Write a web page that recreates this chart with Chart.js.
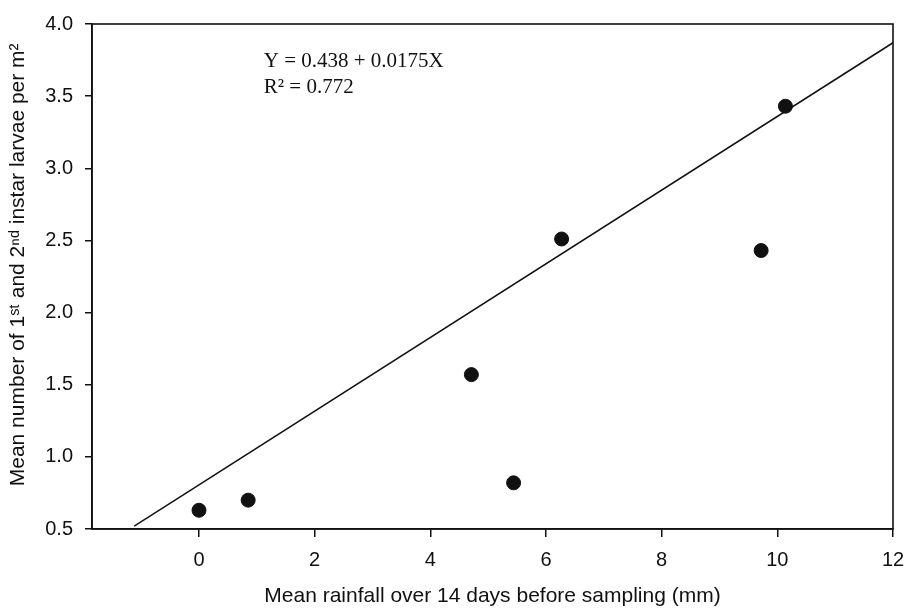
<!DOCTYPE html>
<html>
<head>
<meta charset="utf-8">
<script src="https://cdn.jsdelivr.net/npm/chart.js@4"></script>
<style>
  html, body { margin: 0; padding: 0; background: #fff; }
  #wrap { width: 905px; height: 610px; }
</style>
</head>
<body>
<div id="wrap"><canvas id="larvae-chart"></canvas></div>
<script>
// rainfall (mm) vs larvae density
const rainfall = [0, 0.85, 4.71, 5.44, 6.27, 9.72, 10.14];
const larvae = [0.63, 0.70, 1.57, 0.82, 2.51, 2.43, 3.43];

// end points of the fitted line
const fitX = [-1.12, 12];
const fitY = [0.52, 3.87];

const xTicks = [0, 2, 4, 6, 8, 10, 12];
const yTicks = [0.5, 1.0, 1.5, 2.0, 2.5, 3.0, 3.5, 4.0];

const equationLines = ['Y = 0.438 + 0.0175X', 'R\u00b2 = 0.772'];

const ink = '#111';
const sans = 'Liberation Sans, Arial, sans-serif';

// box around plot area + regression text
const framePlugin = {
    id: 'frame',
    afterDatasetsDraw(chart) {
        const { ctx, chartArea: a, scales } = chart;
        ctx.save();
        ctx.strokeStyle = ink;
        ctx.lineWidth = 1.6;
        ctx.strokeRect(a.left, a.top, a.right - a.left, a.bottom - a.top);

        ctx.fillStyle = ink;
        ctx.font = '21px "Liberation Serif", "Times New Roman", serif';
        ctx.textBaseline = 'alphabetic';
        const tx = scales.x.getPixelForValue(1.12);
        const ty = scales.y.getPixelForValue(3.70);
        ctx.fillText(equationLines[0], tx, ty);
        ctx.fillText(equationLines[1], tx, ty + 26);
        ctx.restore();
    }
};

new Chart(
    document.getElementById('larvae-chart'),
    {
        type: 'scatter',
        data: {
            datasets: [
                {
                    label: 'larvae',
                    data: rainfall.map((x, i) => ({ x: x, y: larvae[i] })),
                    backgroundColor: ink,
                    borderColor: ink,
                    pointRadius: 7,
                    pointHoverRadius: 7
                },
                {
                    label: 'fit',
                    type: 'line',
                    data: fitX.map((x, i) => ({ x: x, y: fitY[i] })),
                    borderColor: ink,
                    borderWidth: 1.5,
                    pointRadius: 0,
                    fill: false
                }
            ]
        },
        options: {
            responsive: true,
            maintainAspectRatio: false,
            animation: false,
            layout: {
                padding: { top: 24, right: 12, left: 0, bottom: 0 }
            },
            plugins: {
                legend: { display: false },
                tooltip: { enabled: false }
            },
            scales: {
                x: {
                    type: 'linear',
                    min: -1.85,
                    max: 12,
                    afterBuildTicks: scale => { scale.ticks = xTicks.map(v => ({ value: v })); },
                    afterFit: scale => {
                        scale.height = 81;
                        scale.paddingLeft = 0;
                        scale.paddingRight = 0;
                    },
                    grid: { drawOnChartArea: false, drawTicks: true, tickLength: 8, color: ink, lineWidth: 1.5 },
                    border: { display: true, color: ink, width: 1.6 },
                    ticks: {
                        color: ink,
                        padding: 11,
                        font: { family: sans, size: 20 }
                    },
                    title: {
                        display: true,
                        text: 'Mean rainfall over 14 days before sampling (mm)',
                        color: ink,
                        font: { family: sans, size: 21 },
                        padding: { top: 0, bottom: 1 }
                    }
                },
                y: {
                    type: 'linear',
                    min: 0.5,
                    max: 4.0,
                    afterBuildTicks: scale => { scale.ticks = yTicks.map(v => ({ value: v })); },
                    afterFit: scale => { scale.width = 92; },
                    grid: { drawOnChartArea: false, drawTicks: true, tickLength: 7, color: ink, lineWidth: 1.5 },
                    border: { display: true, color: ink, width: 1.6 },
                    ticks: {
                        color: ink,
                        padding: 12,
                        font: { family: sans, size: 20 },
                        callback: v => v.toFixed(1)
                    },
                    title: {
                        display: true,
                        // leading spaces nudge the title toward the top of the axis
                        text: '    Mean number of 1\u02e2\u1d57 and 2\u207f\u1d48 instar larvae per m\u00b2',
                        color: ink,
                        font: { family: sans, size: 21 },
                        padding: { top: 6, bottom: 0 }
                    }
                }
            }
        },
        plugins: [framePlugin]
    }
);
</script>
</body>
</html>
